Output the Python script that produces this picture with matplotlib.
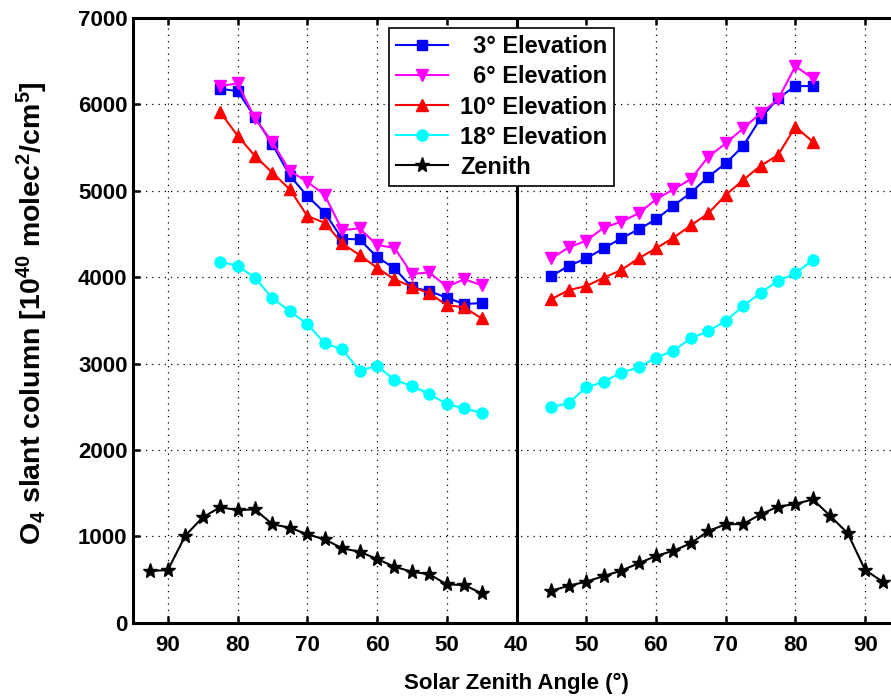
import numpy as np
import matplotlib
matplotlib.use("Agg")
import matplotlib.pyplot as plt

plt.rcParams['font.family'] = ['Liberation Sans', 'DejaVu Sans']
plt.rcParams['font.weight'] = 'bold'
plt.rcParams['mathtext.fontset'] = 'custom'
plt.rcParams['mathtext.rm'] = 'Liberation Sans:bold'
plt.rcParams['mathtext.bf'] = 'Liberation Sans:bold'
plt.rcParams['mathtext.default'] = 'rm'

# Solar zenith angles (morning = left half, afternoon = right half)
sza_elev = [82.5, 80, 77.5, 75, 72.5, 70, 67.5, 65, 62.5, 60, 57.5, 55, 52.5, 50, 47.5, 45]
sza_elev_pm = [45, 47.5, 50, 52.5, 55, 57.5, 60, 62.5, 65, 67.5, 70, 72.5, 75, 77.5, 80, 82.5]
sza_zen = [92.5, 90, 87.5, 85, 82.5, 80, 77.5, 75, 72.5, 70, 67.5, 65, 62.5, 60, 57.5, 55, 52.5, 50, 47.5, 45]
sza_zen_pm = [45, 47.5, 50, 52.5, 55, 57.5, 60, 62.5, 65, 67.5, 70, 72.5, 75, 77.5, 80, 82.5, 85, 87.5, 90, 92.5]

elev3_am = [6180, 6154, 5849, 5537, 5174, 4939, 4745, 4444, 4437, 4233, 4102, 3882, 3839, 3762, 3689, 3700]
elev6_am = [6212, 6243, 5838, 5560, 5228, 5104, 4950, 4545, 4565, 4371, 4340, 4036, 4055, 3889, 3975, 3908]
elev10_am = [5910, 5637, 5402, 5208, 5016, 4707, 4630, 4391, 4256, 4109, 3975, 3889, 3812, 3677, 3650, 3523]
elev18_am = [4178, 4132, 3993, 3754, 3607, 3457, 3234, 3164, 2917, 2975, 2809, 2740, 2647, 2531, 2481, 2431]
zenith_am = [598, 610, 1007, 1220, 1336, 1304, 1312, 1139, 1100, 1023, 965, 861, 822, 737, 648, 590, 560, 444, 436, 340]

elev3_pm = [4012, 4132, 4217, 4333, 4449, 4553, 4669, 4826, 4977, 5162, 5317, 5517, 5838, 6069, 6212, 6212]
elev6_pm = [4217, 4345, 4421, 4572, 4641, 4738, 4900, 5016, 5135, 5393, 5548, 5722, 5896, 6057, 6443, 6300]
elev10_pm = [3746, 3850, 3897, 3993, 4082, 4217, 4333, 4456, 4599, 4738, 4950, 5124, 5289, 5413, 5741, 5567]
elev18_pm = [2493, 2546, 2724, 2789, 2893, 2956, 3067, 3148, 3291, 3376, 3492, 3666, 3819, 3955, 4044, 4198]
zenith_pm = [370, 428, 475, 540, 602, 687, 772, 833, 919, 1061, 1139, 1142, 1254, 1343, 1374, 1428, 1235, 1035, 610, 475]

labels = ['\u20073° Elevation', '\u20076° Elevation', '10° Elevation', '18° Elevation', 'Zenith']
colors = ['#0000ff', '#ff00ff', '#ff0000', '#00ffff', '#000000']
markers = ['s', 'v', '^', 'o', '*']
msizes = [7.5, 8.5, 8.5, 8, 11]

x_ticks_sza = [90, 80, 70, 60, 50, 40, 50, 60, 70, 80, 90]
y_ticks = [0, 1000, 2000, 3000, 4000, 5000, 6000, 7000]

def am(s):
    return -(np.asarray(s) - 40.0)

def pm(s):
    return np.asarray(s) - 40.0

fig = plt.figure(figsize=(8.91, 6.99), dpi=100)
ax = fig.add_axes([133/891, (699-622.7)/699, 767/891, 604.7/699])

am_sets = [(sza_elev, elev3_am), (sza_elev, elev6_am), (sza_elev, elev10_am), (sza_elev, elev18_am), (sza_zen, zenith_am)]
pm_sets = [(sza_elev_pm, elev3_pm), (sza_elev_pm, elev6_pm), (sza_elev_pm, elev10_pm), (sza_elev_pm, elev18_pm), (sza_zen_pm, zenith_pm)]

for i in range(5):
    xs, ys = am_sets[i]
    ax.plot(am(xs), ys, color=colors[i], marker=markers[i], markersize=msizes[i], lw=1.5,
            label=labels[i], zorder=3)
    xs, ys = pm_sets[i]
    ax.plot(pm(xs), ys, color=colors[i], marker=markers[i], markersize=msizes[i], lw=1.5, zorder=3)

ax.axvline(0, color='black', lw=2.2, zorder=2)

ax.set_xlim(-55, 55)
ax.set_ylim(0, 7000)
tick_pos = [-50, -40, -30, -20, -10, 0, 10, 20, 30, 40, 50]
ax.set_xticks(tick_pos)
ax.set_xticklabels([str(v) for v in x_ticks_sza])
ax.set_yticks(y_ticks)
ax.set_yticklabels([str(v) for v in y_ticks])
ax.grid(True, color='black', linestyle=(0, (1, 4)), lw=0.9)
ax.tick_params(direction='in', length=5, width=1.8, top=True, right=True,
               labelsize=16)
ax.tick_params(axis='x', pad=9)
ax.tick_params(axis='y', pad=4)
for lab in ax.get_xticklabels() + ax.get_yticklabels():
    lab.set_fontweight('bold')
for sp in ax.spines.values():
    sp.set_linewidth(2.2)

ax.set_xlabel('Solar Zenith Angle (°)', fontsize=16, fontweight='bold', labelpad=12)
ax.set_ylabel('O$_4$ slant column [10$^{40}$ molec$^2$/cm$^5$]', fontsize=20.5, fontweight='bold')
ax.yaxis.set_label_coords(-0.108, 0.512)

leg = ax.legend(loc='upper left', bbox_to_anchor=(0.334, 0.983), borderaxespad=0,
                fancybox=False, edgecolor='black', framealpha=1,
                handlelength=2.2, labelspacing=0.3, borderpad=0.3, handletextpad=0.5,
                prop={'weight': 'bold', 'size': 17})
leg.get_frame().set_linewidth(1.2)

fig.savefig('out.png', dpi=100)
